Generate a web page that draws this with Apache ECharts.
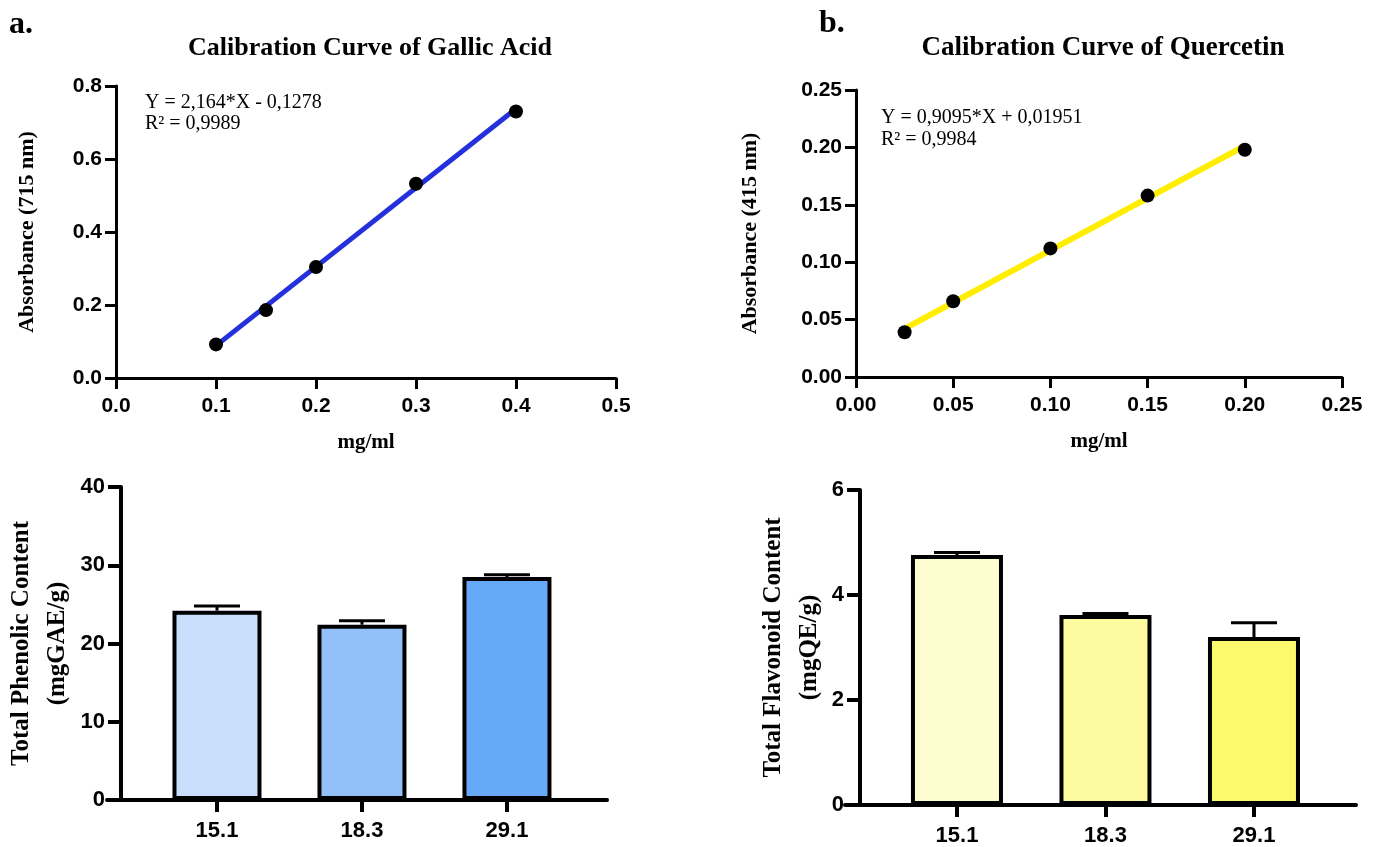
<!DOCTYPE html>
<html>
<head>
<meta charset="utf-8">
<script src="https://cdn.jsdelivr.net/npm/echarts@6/dist/echarts.min.js"></script>
<style>
html,body{margin:0;padding:0;background:#fff;}
#chart{width:1376px;height:847px;}
</style>
</head>
<body>
<div id="chart"></div>
<script>
// ---- Data ----
const gallicConc = [0.1, 0.15, 0.2, 0.3, 0.4];
const gallicAbs = [0.092, 0.186, 0.304, 0.532, 0.730];
const gallicFit = [[0.1, 0.0886], [0.4, 0.7378]];
const gallicEq = ['Y = 2,164*X - 0,1278', 'R² = 0,9989'];

const quercConc = [0.025, 0.05, 0.1, 0.15, 0.2];
const quercAbs = [0.039, 0.066, 0.112, 0.158, 0.198];
const quercFit = [[0.025, 0.0422], [0.2, 0.2014]];
const quercEq = ['Y = 0,9095*X + 0,01951', 'R² = 0,9984'];

const categories = ['15.1', '18.3', '29.1'];
const phenolic = [24.2, 22.4, 28.5];
const phenolicErr = [0.6, 0.5, 0.3];
const flavonoid = [4.76, 3.62, 3.20];
const flavonoidErr = [0.05, 0.03, 0.27];

const gallicXTicks = [0, 0.1, 0.2, 0.3, 0.4, 0.5];
const gallicYTicks = [0, 0.2, 0.4, 0.6, 0.8];
const quercXTicks = [0, 0.05, 0.1, 0.15, 0.2, 0.25];
const quercYTicks = [0, 0.05, 0.1, 0.15, 0.2, 0.25];
const phenolicYTicks = [0, 10, 20, 30, 40];
const flavonoidYTicks = [0, 2, 4, 6];

// ---- Styles ----
const phenolicColors = ['#c9defa', '#93c1f7', '#66a9f9'];
const flavonoidColors = ['#fefdd2', '#fdfba0', '#fcfa6c'];
const SANS = "'Liberation Sans', Arial, sans-serif";
const SERIF = "'Liberation Serif', 'Times New Roman', serif";

const chart = echarts.init(document.getElementById('chart'), null, {renderer: 'canvas'});

function mkValueAxis(gi, ticks, digits, margin, extra) {
  return Object.assign({
    type: 'value', gridIndex: gi,
    min: ticks[0], max: ticks[ticks.length - 1],
    interval: ticks[1] - ticks[0],
    axisLine: {show: true, lineStyle: {color: '#000', width: 3}},
    axisTick: {show: true, length: 11, lineStyle: {color: '#000', width: 3}},
    splitLine: {show: false},
    axisLabel: {color: '#000', fontFamily: SANS, fontWeight: 'bold', fontSize: 21, margin: margin,
      formatter: v => v.toFixed(digits)}
  }, extra || {});
}

function errRender(params, api) {
  const x = api.value(0), y = api.value(1), e = api.value(2);
  const base = api.coord([x, y]);
  const top = api.coord([x, y + e]);
  const half = 23;
  return {
    type: 'group',
    children: [
      {type: 'line', shape: {x1: base[0], y1: base[1], x2: top[0], y2: top[1]}, style: {stroke: '#000', lineWidth: 3}},
      {type: 'line', shape: {x1: top[0] - half, y1: top[1], x2: top[0] + half, y2: top[1]}, style: {stroke: '#000', lineWidth: 3}}
    ]
  };
}

const catPos = categories.map((c, i) => i + 1);

function catXAxis(gi, min, max) {
  return {
    type: 'value', gridIndex: gi, min: min, max: max,
    axisLine: {show: true, lineStyle: {color: '#000', width: 4}},
    axisTick: {show: true, length: 12, lineStyle: {color: '#000', width: 4}, customValues: catPos},
    splitLine: {show: false},
    axisLabel: {color: '#000', fontFamily: SANS, fontWeight: 'bold', fontSize: 22, margin: 20,
      customValues: catPos, formatter: v => categories[Math.round(v) - 1] || ''}
  };
}

function barYAxis(gi, ticks, offset, name, gap) {
  return {
    type: 'value', gridIndex: gi, min: ticks[0], max: ticks[ticks.length - 1],
    interval: ticks[1] - ticks[0], offset: offset,
    axisLine: {show: true, lineStyle: {color: '#000', width: 4}},
    axisTick: {show: true, length: 13, lineStyle: {color: '#000', width: 4}},
    splitLine: {show: false},
    axisLabel: {color: '#000', fontFamily: SANS, fontWeight: 'bold', fontSize: 22, margin: 16},
    name: name, nameLocation: 'middle', nameRotate: 90, nameGap: gap,
    nameTextStyle: {color: '#000', fontFamily: SERIF, fontWeight: 'bold', fontSize: 25, lineHeight: 36}
  };
}

const nameStyle = {color: '#000', fontFamily: SERIF, fontWeight: 'bold', fontSize: 21};
const yNameStyle = {color: '#000', fontFamily: SERIF, fontWeight: 'bold', fontSize: 22};

const option = {
  backgroundColor: '#fff',
  animation: false,
  title: [
    {text: 'a.', left: 4, top: 4, textStyle: {fontFamily: SERIF, fontWeight: 'bold', fontSize: 32, color: '#000'}},
    {text: 'b.', left: 814, top: 3, textStyle: {fontFamily: SERIF, fontWeight: 'bold', fontSize: 32, color: '#000'}},
    {text: 'Calibration Curve of Gallic Acid', left: 365, top: 30, textAlign: 'center',
      textStyle: {fontFamily: SERIF, fontWeight: 'bold', fontSize: 26, color: '#000'}},
    {text: 'Calibration Curve of Quercetin', left: 1098, top: 30, textAlign: 'center',
      textStyle: {fontFamily: SERIF, fontWeight: 'bold', fontSize: 27, color: '#000'}}
  ],
  graphic: [
    {type: 'text', left: 145, top: 92, style: {text: gallicEq.join('\n'), fontFamily: SERIF, fontSize: 20, lineHeight: 21, fill: '#000'}},
    {type: 'text', left: 881, top: 107, style: {text: quercEq.join('\n'), fontFamily: SERIF, fontSize: 20, lineHeight: 22, fill: '#000'}}
  ],
  grid: [
    {left: 116, top: 86, width: 500, height: 292},
    {left: 856, top: 90, width: 486, height: 287},
    {left: 107, top: 487, width: 500, height: 313},
    {left: 845, top: 490, width: 511, height: 316}
  ],
  xAxis: [
    mkValueAxis(0, gallicXTicks, 1, 18, {name: 'mg/ml', nameLocation: 'middle', nameGap: 54, nameTextStyle: nameStyle}),
    mkValueAxis(1, quercXTicks, 2, 18, {name: 'mg/ml', nameLocation: 'middle', nameGap: 54, nameTextStyle: nameStyle}),
    catXAxis(2, 0.2414, 3.69),
    catXAxis(3, 0.246, 3.687)
  ],
  yAxis: [
    mkValueAxis(0, gallicYTicks, 1, 14, {name: 'Absorbance (715 nm)', nameLocation: 'middle', nameRotate: 90, nameGap: 78, nameTextStyle: yNameStyle}),
    mkValueAxis(1, quercYTicks, 2, 14, {name: 'Absorbance (415 nm)', nameLocation: 'middle', nameRotate: 90, nameGap: 95, nameTextStyle: yNameStyle}),
    barYAxis(2, phenolicYTicks, -14, 'Total Phenolic Content\n(mgGAE/g)', 45),
    barYAxis(3, flavonoidYTicks, -15, 'Total Flavonoid Content\n(mgQE/g)', 32)
  ],
  series: [
    {type: 'line', xAxisIndex: 0, yAxisIndex: 0, data: gallicFit, showSymbol: false, symbol: 'none',
      lineStyle: {color: '#2430dc', width: 5}, z: 2},
    {type: 'scatter', xAxisIndex: 0, yAxisIndex: 0, data: gallicConc.map((x, i) => [x, gallicAbs[i]]),
      symbolSize: 14, itemStyle: {color: '#000', opacity: 1}, z: 3},
    {type: 'line', xAxisIndex: 1, yAxisIndex: 1, data: quercFit, showSymbol: false, symbol: 'none',
      lineStyle: {color: '#ffee00', width: 6}, z: 2},
    {type: 'scatter', xAxisIndex: 1, yAxisIndex: 1, data: quercConc.map((x, i) => [x, quercAbs[i]]),
      symbolSize: 14, itemStyle: {color: '#000', opacity: 1}, z: 3},
    {type: 'bar', xAxisIndex: 2, yAxisIndex: 2, barWidth: 89,
      data: categories.map((c, i) => ({value: [i + 1, phenolic[i]], itemStyle: {color: phenolicColors[i]}})),
      itemStyle: {borderColor: '#000', borderWidth: 4}, z: 2},
    {type: 'custom', xAxisIndex: 2, yAxisIndex: 2, renderItem: errRender,
      data: categories.map((c, i) => [i + 1, phenolic[i], phenolicErr[i]]), z: 3},
    {type: 'bar', xAxisIndex: 3, yAxisIndex: 3, barWidth: 92,
      data: categories.map((c, i) => ({value: [i + 1, flavonoid[i]], itemStyle: {color: flavonoidColors[i]}})),
      itemStyle: {borderColor: '#000', borderWidth: 4}, z: 2},
    {type: 'custom', xAxisIndex: 3, yAxisIndex: 3, renderItem: errRender,
      data: categories.map((c, i) => [i + 1, flavonoid[i], flavonoidErr[i]]), z: 3}
  ]
};
chart.setOption(option);
</script>
</body>
</html>
